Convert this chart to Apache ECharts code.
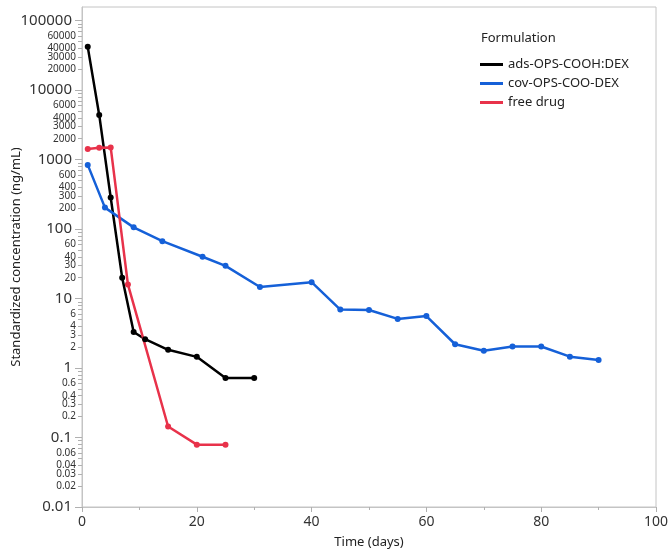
<!DOCTYPE html>
<html><head><meta charset="utf-8">
<script src="https://cdn.jsdelivr.net/npm/echarts@6/dist/echarts.min.js"></script>
<style>html,body{margin:0;padding:0;background:#fff}#c{width:672px;height:560px}</style>
</head><body><div id="c"></div>
<script>
// ---- data ----
const seriesNames = ['ads-OPS-COOH:DEX', 'cov-OPS-COO-DEX', 'free drug'];
const adsDays = [1, 3, 5, 7, 9, 11, 15, 20, 25, 30];
const adsConc = [42000, 4400, 285, 20, 3.3, 2.6, 1.83, 1.45, 0.72, 0.72];
const covDays = [1, 4, 9, 14, 21, 25, 31, 40, 45, 50, 55, 60, 65, 70, 75, 80, 85, 90];
const covConc = [840, 204, 106, 67, 40, 29.6, 14.7, 17.2, 6.95, 6.85, 5.1, 5.6, 2.2, 1.77, 2.04, 2.04, 1.46, 1.31];
const freeDays = [1, 3, 5, 8, 15, 20, 25];
const freeConc = [1420, 1480, 1500, 16, 0.144, 0.079, 0.079];
const majorTicks = [0.01, 0.1, 1, 10, 100, 1000, 10000, 100000];
const minorMult = [2, 3, 4, 5, 6, 7, 8, 9];
const minorLabelMult = [2, 3, 4, 6];
const xTicks = [0, 20, 40, 60, 80, 100];

const colors = ['#000000', '#1560d8', '#e8324a'];
const FONT = 'Noto Sans';
const yMaxLog = 5.197;

const lg = v => Math.log10(v);
const majorVals = majorTicks.map(lg);
const minorTickVals = [], minorLabelVals = [];
majorTicks.slice(0, -1).forEach(d => {
  minorMult.forEach(m => minorTickVals.push(lg(d * m)));
  minorLabelMult.forEach(m => minorLabelVals.push(lg(d * m)));
});
const fmt = v => String(Number(Math.pow(10, v).toPrecision(6)));

const grid = {left: 82, right: 16, top: 7, bottom: 53, show: true, borderColor: '#c4c4c4', borderWidth: 1,
  containLabel: false, outerBoundsMode: 'none'};

const mk = (name, days, conc, color) => ({
  name, type: 'line', yAxisIndex: 0,
  data: days.map((d, i) => [d, conc[i]]),
  symbol: 'circle', symbolSize: 6,
  lineStyle: {color, width: 2.5}, itemStyle: {color},
  animation: false
});

const chart = echarts.init(document.getElementById('c'), null, {renderer: 'canvas'});
chart.setOption({
  animation: false,
  textStyle: {fontFamily: FONT},
  grid,
  xAxis: {
    type: 'value', min: 0, max: 100, interval: 20,
    name: 'Time (days)', nameLocation: 'middle', nameGap: 29, nameMoveOverlap: false,
    nameTextStyle: {fontFamily: FONT, fontSize: 13, color: '#222'},
    axisLine: {show: true, onZero: false, lineStyle: {color: '#c4c4c4'}},
    axisTick: {show: true, length: 5, lineStyle: {color: '#b0b0b0'}},
    minorTick: {show: true, splitNumber: 2, length: 3, lineStyle: {color: '#b0b0b0'}},
    axisLabel: {fontFamily: FONT, fontSize: 14, color: '#333', margin: 8, customValues: xTicks},
    splitLine: {show: false}
  },
  yAxis: [
    {type: 'log', min: 0.01, max: Math.pow(10, yMaxLog), show: false, splitLine: {show: false}},
    {
      type: 'value', min: -2, max: yMaxLog, position: 'left',
      name: 'Standardized concentration (ng/mL)', nameLocation: 'middle', nameGap: 59, nameRotate: 90,
      nameMoveOverlap: false,
      nameTextStyle: {fontFamily: FONT, fontSize: 13, color: '#222'},
      axisLine: {show: true, onZero: false, lineStyle: {color: '#c4c4c4'}},
      axisTick: {show: true, length: 7, customValues: majorVals, lineStyle: {color: '#b0b0b0'}},
      axisLabel: {fontFamily: FONT, fontSize: 15, color: '#333', margin: 10, customValues: majorVals, formatter: fmt},
      splitLine: {show: false}
    },
    {
      type: 'value', min: -2, max: yMaxLog, position: 'left',
      axisLine: {show: false, onZero: false},
      axisTick: {show: true, length: 4, customValues: minorTickVals, lineStyle: {color: '#b0b0b0'}},
      axisLabel: {fontFamily: FONT, fontSize: 10, color: '#333', margin: 6, customValues: minorLabelVals, formatter: fmt},
      splitLine: {show: false}
    }
  ],
  legend: {
    orient: 'vertical', left: 480, top: 58, itemGap: 6, padding: 0,
    itemWidth: 23, itemHeight: 3, icon: 'rect',
    textStyle: {fontFamily: FONT, fontSize: 13, color: '#222'},
    data: seriesNames.map((n, i) => ({name: n, icon: 'rect', itemStyle: {color: colors[i]}}))
  },
  graphic: [{
    type: 'text', left: 481, top: 32,
    style: {text: 'Formulation', font: '13px "' + FONT + '"', fill: '#222'}
  }],
  series: [
    mk(seriesNames[0], adsDays, adsConc, colors[0]),
    mk(seriesNames[1], covDays, covConc, colors[1]),
    mk(seriesNames[2], freeDays, freeConc, colors[2])
  ]
});
</script>
</body></html>
